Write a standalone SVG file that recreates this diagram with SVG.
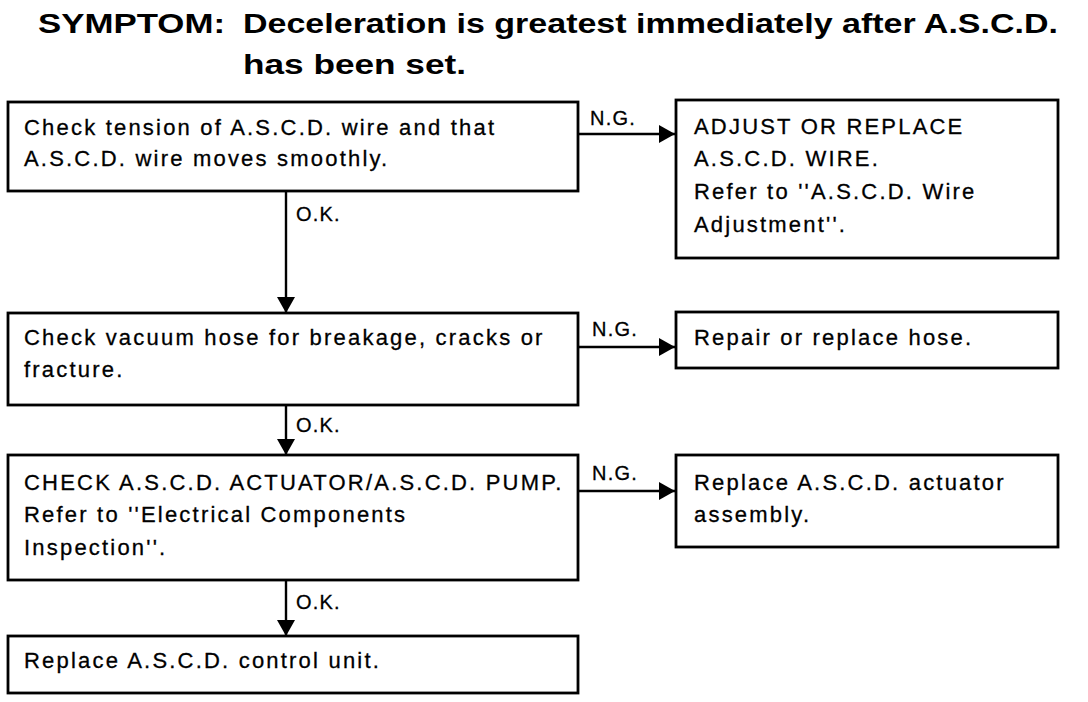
<svg xmlns="http://www.w3.org/2000/svg" width="1088" height="702" viewBox="0 0 1088 702">
<style>
.box{fill:#fff;stroke:#000;stroke-width:2.8}
.t{font-family:"Liberation Sans",Arial,sans-serif;font-size:22px;letter-spacing:2.2px;fill:#000;stroke:#000;stroke-width:0.3}
.lbl{font-family:"Liberation Sans",Arial,sans-serif;font-size:20px;letter-spacing:1.2px;fill:#000;stroke:#000;stroke-width:0.3}
.title{font-family:"Liberation Sans",Arial,sans-serif;font-size:27px;font-weight:bold;fill:#000}
.conn{stroke:#000;stroke-width:2.4;fill:none}
</style>
<defs>
<marker id="ah" markerUnits="userSpaceOnUse" markerWidth="16" markerHeight="18" refX="16" refY="9" orient="auto">
<path d="M0,0 L16,9 L0,18 Z" fill="#000"/>
</marker>
</defs>
<rect width="1088" height="702" fill="#fff"/>
<g id="title">
<text class="title" x="38" y="33" textLength="187" lengthAdjust="spacingAndGlyphs">SYMPTOM:</text>
<text class="title" x="243" y="33" textLength="815" lengthAdjust="spacingAndGlyphs">Deceleration is greatest immediately after A.S.C.D.</text>
<text class="title" x="243" y="74" textLength="223" lengthAdjust="spacingAndGlyphs">has been set.</text>
</g>
<g id="connectors">
<path class="conn" d="M578,134 H675" marker-end="url(#ah)"/>
<path class="conn" d="M578,347 H675" marker-end="url(#ah)"/>
<path class="conn" d="M578,491 H675" marker-end="url(#ah)"/>
<path class="conn" d="M286,191 V313" marker-end="url(#ah)"/>
<path class="conn" d="M286,405 V455" marker-end="url(#ah)"/>
<path class="conn" d="M286,580 V636" marker-end="url(#ah)"/>
<text class="lbl" x="590" y="125">N.G.</text>
<text class="lbl" x="592" y="336">N.G.</text>
<text class="lbl" x="592" y="480">N.G.</text>
<text class="lbl" x="296" y="221">O.K.</text>
<text class="lbl" x="296" y="432">O.K.</text>
<text class="lbl" x="296" y="609">O.K.</text>
</g>
<g id="n1">
<rect class="box" x="8" y="102" width="570" height="89"/>
<text class="t" x="24" y="135">Check tension of A.S.C.D. wire and that</text>
<text class="t" x="24" y="166">A.S.C.D. wire moves smoothly.</text>
</g>
<g id="n2">
<rect class="box" x="676" y="100" width="382" height="158"/>
<text class="t" x="694" y="134">ADJUST OR REPLACE</text>
<text class="t" x="694" y="166">A.S.C.D. WIRE.</text>
<text class="t" x="694" y="199">Refer to ''A.S.C.D. Wire</text>
<text class="t" x="694" y="232">Adjustment''.</text>
</g>
<g id="n3">
<rect class="box" x="8" y="313" width="570" height="92"/>
<text class="t" x="24" y="345">Check vacuum hose for breakage, cracks or</text>
<text class="t" x="24" y="377">fracture.</text>
</g>
<g id="n4">
<rect class="box" x="676" y="312" width="382" height="56"/>
<text class="t" x="694" y="345">Repair or replace hose.</text>
</g>
<g id="n5">
<rect class="box" x="8" y="455" width="570" height="125"/>
<text class="t" x="24" y="490">CHECK A.S.C.D. ACTUATOR/A.S.C.D. PUMP.</text>
<text class="t" x="24" y="522">Refer to ''Electrical Components</text>
<text class="t" x="24" y="555">Inspection''.</text>
</g>
<g id="n6">
<rect class="box" x="676" y="455" width="382" height="92"/>
<text class="t" x="694" y="490">Replace A.S.C.D. actuator</text>
<text class="t" x="694" y="522">assembly.</text>
</g>
<g id="n7">
<rect class="box" x="8" y="636" width="570" height="57"/>
<text class="t" x="24" y="668">Replace A.S.C.D. control unit.</text>
</g>
</svg>
